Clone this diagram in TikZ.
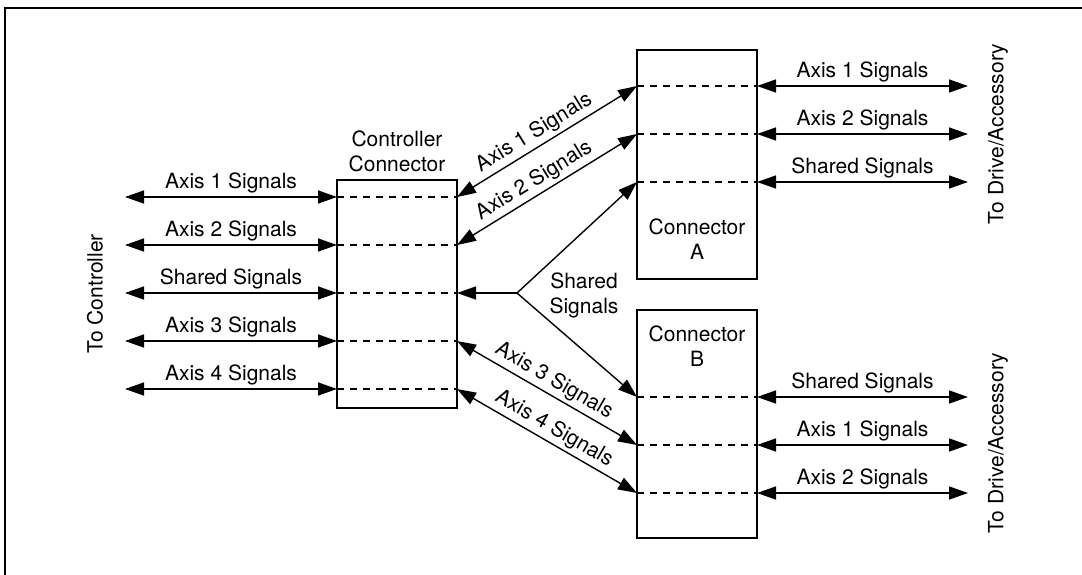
\documentclass[tikz,border=0pt]{standalone}
\usepackage{fontspec}
\setmainfont{TeX Gyre Heros}
\usetikzlibrary{arrows.meta}
\begin{document}
\begin{tikzpicture}[x=1pt,y=-1pt,
  font=\fontsize{21}{25}\selectfont,
  conn/.style={line width=1.4pt},
  dbl/.style={conn,{Triangle[length=19pt,width=13pt]}-{Triangle[length=19pt,width=13pt]}},
  sgl/.style={conn,-{Triangle[length=19pt,width=13pt]}},
  box/.style={draw,line width=1.4pt,inner sep=0pt},
  dashln/.style={line width=2.6pt,dash pattern=on 7pt off 6pt},
  lbl/.style={midway,above},
  frame/.style={line width=2.7pt}
]
\useasboundingbox (0,0) rectangle (1082,575);
% frame (only top and left visible)
\coordinate (f1) at (5,575);
\coordinate (f2) at (5,8);
\coordinate (f3) at (1082,8);
\draw[frame] (f1) -- (f2) -- (f3);

% boxes
\node[box,minimum width=120pt,minimum height=228pt] (cc) at (397,294) {};
\node[box,minimum width=120pt,minimum height=229pt] (ca) at (697,164.5) {};
\node[box,minimum width=120pt,minimum height=228pt] (cb) at (697,424) {};

\node[align=center,anchor=south,inner sep=0pt] (cct) at (397,172) {Controller\\Connector};
\node[align=center] (cat) at (697,239) {Connector\\A};
\node[align=center] (cbt) at (697,346) {Connector\\B};

% controller connector rows
\foreach \i/\y in {1/197,2/245,3/293,4/341,5/389}{
  \coordinate (cl\i) at (337,\y);
  \coordinate (cr\i) at (457,\y);
  \coordinate (ll\i) at (125,\y);
}
\foreach \i/\y in {1/86,2/134,3/182}{
  \coordinate (al\i) at (637,\y);
  \coordinate (ar\i) at (757,\y);
  \coordinate (ae\i) at (968,\y);
}
\foreach \i/\y in {1/397,2/445,3/493}{
  \coordinate (bl\i) at (637,\y);
  \coordinate (br\i) at (757,\y);
  \coordinate (be\i) at (968,\y);
}
\foreach \i in {1,...,5}{\draw[dashln] (cl\i) -- (cr\i);}
\foreach \i in {1,2,3}{\draw[dashln] (al\i) -- (ar\i); \draw[dashln] (bl\i) -- (br\i);}

% left arrows
\draw[dbl] (ll1) -- node[lbl] {Axis 1 Signals} (cl1);
\draw[dbl] (ll2) -- node[lbl] {Axis 2 Signals} (cl2);
\draw[dbl] (ll3) -- node[lbl] {Shared Signals} (cl3);
\draw[dbl] (ll4) -- node[lbl] {Axis 3 Signals} (cl4);
\draw[dbl] (ll5) -- node[lbl] {Axis 4 Signals} (cl5);

% right arrows
\draw[dbl] (ar1) -- node[lbl] {Axis 1 Signals} (ae1);
\draw[dbl] (ar2) -- node[lbl] {Axis 2 Signals} (ae2);
\draw[dbl] (ar3) -- node[lbl] {Shared Signals} (ae3);
\draw[dbl] (br1) -- node[lbl] {Shared Signals} (be1);
\draw[dbl] (br2) -- node[lbl] {Axis 1 Signals} (be2);
\draw[dbl] (br3) -- node[lbl] {Axis 2 Signals} (be3);

% diagonals
\draw[dbl] (cr1) -- node[sloped,above,pos=0.47] {Axis 1 Signals} (al1);
\draw[dbl] (cr2) -- node[sloped,above,pos=0.47] {Axis 2 Signals} (al2);
\draw[dbl] (cr4) -- node[sloped,above,pos=0.5] {Axis 3 Signals} (bl2);
\draw[dbl] (cr5) -- node[sloped,above,pos=0.5] {Axis 4 Signals} (bl3);

% shared branch
\coordinate (bp) at (517,293);
\draw[sgl] (bp) -- (cr3);
\draw[sgl] (bp) -- (al3);
\draw[sgl] (bp) -- (bl1);
\node[align=center] (sst) at (584,295) {Shared\\Signals};

% side labels
\node[rotate=90] (tc) at (95,294) {To Controller};
\node[rotate=90] (td1) at (998,134) {To Drive/Accessory};
\node[rotate=90] (td2) at (998,443) {To Drive/Accessory};
\end{tikzpicture}
\end{document}
